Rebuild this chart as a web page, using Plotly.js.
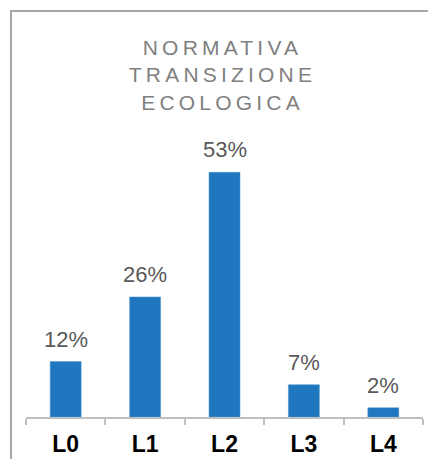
<!DOCTYPE html>
<html>
<head>
<meta charset="utf-8">
<script src="https://cdn.plot.ly/plotly-3.0.1.min.js"></script>
<style>
  html, body { margin: 0; padding: 0; background: #ffffff; }
  #wrap { position: relative; width: 428px; height: 459px; overflow: hidden; }
  #frame { position: absolute; left: 10px; top: 10px; width: 600px; height: 600px;
           border-left: 2px solid #a6a6a6; border-top: 2px solid #a6a6a6; }
  #chart { position: absolute; left: 0; top: 0; width: 428px; height: 459px; }
  .gtitle { letter-spacing: 4.2px; }
</style>
</head>
<body>
<div id="wrap">
  <div id="frame"></div>
  <div id="chart"></div>
</div>
<script>
const categories = ["L0", "L1", "L2", "L3", "L4"];
const values = [12, 26, 53, 7, 2];
const labels = ["12%", "26%", "53%", "7%", "2%"];
const titleLines = ["NORMATIVA", "TRANSIZIONE", "ECOLOGICA"];

const trace = {
  type: "bar",
  x: categories,
  y: values,
  marker: { color: "#1f78bf", line: { color: "#4a93cc", width: 0.5 } },
  hoverinfo: "skip"
};

const annotations = categories.map((c, i) => ({
  x: c, y: values[i], xref: "x", yref: "y",
  text: labels[i], showarrow: false,
  yanchor: "bottom", yshift: 8,
  font: { family: "Liberation Sans Narrow, Liberation Sans, sans-serif", size: 22, color: "#595959" }
}));

const layout = {
  width: 428, height: 459,
  margin: { l: 26, r: 5, t: 140, b: 42 },
  paper_bgcolor: "rgba(0,0,0,0)",
  plot_bgcolor: "rgba(0,0,0,0)",
  showlegend: false,
  bargap: 0.61,
  title: {
    text: titleLines.join("<br>"),
    xref: "paper", x: 0.495, xanchor: "center",
    yref: "container", y: 1 - 55 / 459, yanchor: "top",
    font: { family: "Liberation Sans, sans-serif", size: 21, color: "#808080" }
  },
  xaxis: {
    type: "category",
    showline: true, linecolor: "#bfbfbf", linewidth: 2,
    ticks: "outside", tickson: "boundaries", ticklen: 6, tickcolor: "#bfbfbf", tickwidth: 2,
    ticklabelstandoff: 5,
    showgrid: false, zeroline: false,
    tickfont: { family: "Liberation Sans Narrow, Liberation Sans, sans-serif", size: 23, color: "#000000", weight: "bold" }
  },
  yaxis: {
    visible: false, range: [0, 60], showgrid: false, zeroline: false
  },
  annotations: annotations
};

Plotly.newPlot("chart", [trace], layout, { displayModeBar: false, staticPlot: true });
</script>
</body>
</html>
